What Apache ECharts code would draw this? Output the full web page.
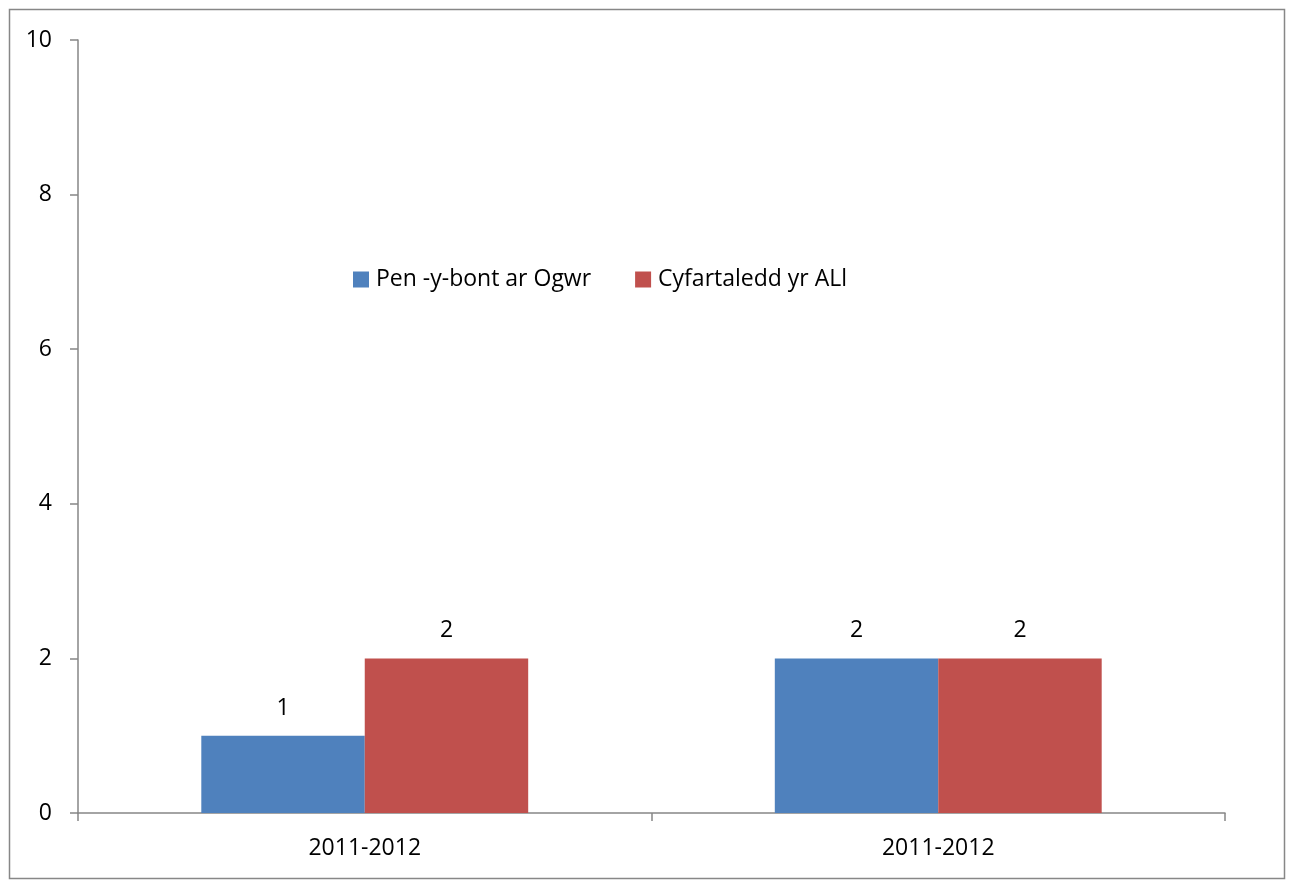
<!DOCTYPE html>
<html><head><meta charset="utf-8">
<script src="https://cdn.jsdelivr.net/npm/echarts@6/dist/echarts.min.js"></script>
<style>html,body{margin:0;padding:0;background:#fff}#c{width:1290px;height:880px}</style>
</head><body><div id="c"></div>
<script>
const categories = ['2011-2012', '2011-2012'];
const seriesNames = ['Pen -y-bont ar Ogwr', 'Cyfartaledd yr ALl'];
const valuesBridgend = [1, 2];
const valuesAverage = [2, 2];
const yTicks = [0, 2, 4, 6, 8, 10];

const FONT = 'Open Sans';
const FS = 23;
const chart = echarts.init(document.getElementById('c'));
const labelCfg = {show: true, position: 'top', distance: 16, color: '#000', fontFamily: FONT, fontSize: FS};
chart.setOption({
  animation: false,
  textStyle: {fontFamily: FONT},
  graphic: [{type: 'rect', shape: {x: 9.5, y: 9.5, width: 1275, height: 869}, style: {fill: 'none', stroke: '#878787', lineWidth: 1.5}, silent: true}],
  legend: {
    left: 353, top: 268, padding: 0, itemWidth: 16, itemHeight: 16, itemGap: 44,
    icon: 'rect',
    textStyle: {fontFamily: FONT, fontSize: FS, color: '#000', padding: [0, 0, 0, 2]},
    data: seriesNames
  },
  grid: {left: 78, right: 65, top: 40, bottom: 67, containLabel: false},
  xAxis: {
    type: 'category', data: categories,
    axisLine: {lineStyle: {color: '#868686', width: 1.5}},
    axisTick: {show: true, length: 8, lineStyle: {color: '#868686', width: 1.5}},
    axisLabel: {color: '#000', fontFamily: FONT, fontSize: FS, margin: 24}
  },
  yAxis: {
    type: 'value', min: yTicks[0], max: yTicks[yTicks.length - 1], interval: 2,
    splitLine: {show: false},
    axisLine: {show: true, lineStyle: {color: '#868686', width: 1.5}},
    axisTick: {show: true, length: 8, lineStyle: {color: '#868686', width: 1.5}},
    axisLabel: {color: '#000', fontFamily: FONT, fontSize: FS, margin: 26}
  },
  series: [
    {name: seriesNames[0], type: 'bar', data: valuesBridgend, itemStyle: {color: '#4F81BD'}, barGap: '0%', barCategoryGap: '43%', label: labelCfg},
    {name: seriesNames[1], type: 'bar', data: valuesAverage, itemStyle: {color: '#C0504D'}, barGap: '0%', barCategoryGap: '43%', label: labelCfg}
  ]
});
</script></body></html>
